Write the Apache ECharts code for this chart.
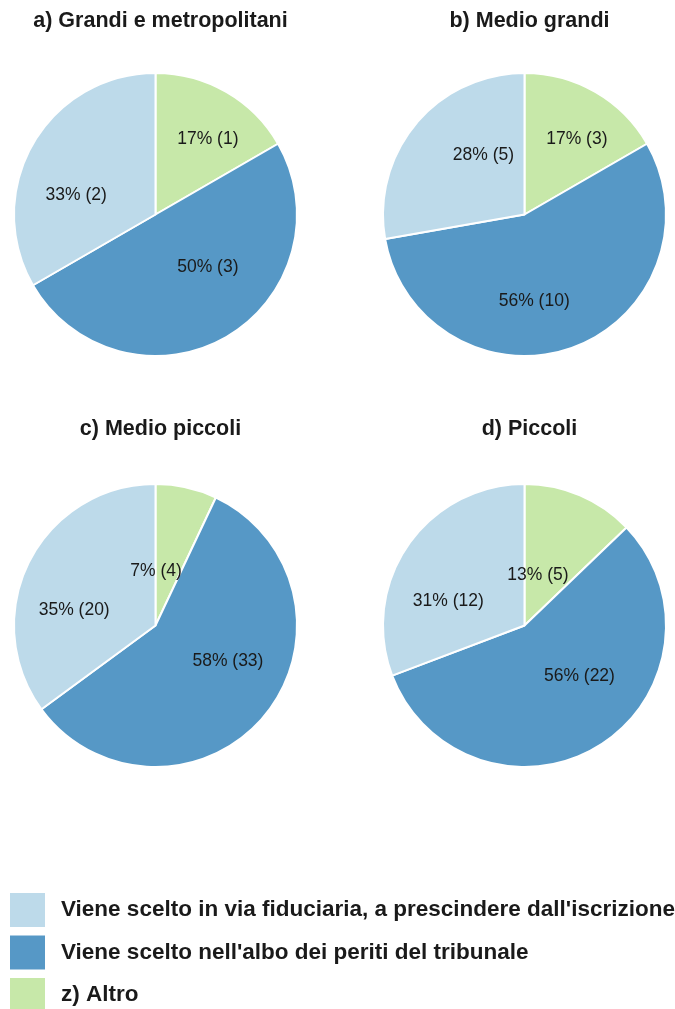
<!DOCTYPE html>
<html>
<head>
<meta charset="utf-8">
<script src="https://cdn.jsdelivr.net/npm/echarts@6/dist/echarts.min.js"></script>
<style>
  html, body { margin: 0; padding: 0; background: #ffffff; }
  #chart { width: 675px; height: 1009px; }
</style>
</head>
<body>
<div id="chart"></div>
<script>
// Category names (legend order)
const categories = [
  "Viene scelto in via fiduciaria, a prescindere dall'iscrizione",
  "Viene scelto nell'albo dei periti del tribunale",
  "z) Altro"
];
const categoryColors = ['#bddaea', '#5698c6', '#c7e8a9'];

// Panel titles
const panelTitles = [
  'a) Grandi e metropolitani',
  'b) Medio grandi',
  'c) Medio piccoli',
  'd) Piccoli'
];

// Counts per panel, in category order: fiduciaria, albo, altro
const grandiMetropolitani = [2, 3, 1];
const medioGrandi = [5, 10, 3];
const medioPiccoli = [20, 33, 4];
const piccoli = [12, 22, 5];

const panels = [grandiMetropolitani, medioGrandi, medioPiccoli, piccoli];

// Label placement: +1 shifts a label up-right, -1 down-left (category order)
const labelShift = [
  [-1, 1, 1],
  [1, -1, 1],
  [-1, 1, -1],
  [-1, 1, -1]
];

// Layout of the 2x2 grid of pies
const centersX = [155.5, 524.5];
const centersY = [214.5, 625.5];
const titleTops = [5, 413.5];
const pieRadius = 141.5;

const FONT = '"Liberation Sans", Arial, sans-serif';

const titles = [];
const series = [];
// Slices run clockwise from 12 o'clock: altro, albo, fiduciaria
const sliceOrder = [2, 1, 0];

panels.forEach((values, p) => {
  const col = p % 2, row = Math.floor(p / 2);
  const total = values.reduce((a, b) => a + b, 0);
  titles.push({
    text: panelTitles[p],
    left: centersX[col],
    top: titleTops[row],
    textAlign: 'center',
    textStyle: { fontFamily: FONT, fontWeight: 'bold', fontSize: 21.5, color: '#1a1a1a' }
  });
  series.push({
    type: 'pie',
    center: [centersX[col], centersY[row]],
    radius: pieRadius,
    startAngle: 90,
    clockwise: true,
    animation: false,
    silent: true,
    itemStyle: { borderColor: '#ffffff', borderWidth: 2 },
    label: {
      show: true,
      position: 'inside',
      fontFamily: FONT,
      fontSize: 17.5,
      color: '#1a1a1a',
      formatter: (prm) => Math.round(prm.value / total * 100) + '% (' + prm.value + ')'
    },
    labelLine: { show: false },
    labelLayout: (prm) => {
      const s = labelShift[p][sliceOrder[prm.dataIndex]];
      return { dx: s * 15.5, dy: -s * 14.5 + 3 };
    },
    data: sliceOrder.map(i => ({
      name: categories[i],
      value: values[i],
      itemStyle: { color: categoryColors[i] }
    }))
  });
});

// One legend block per category, stacked down the bottom-left
const legendTops = [891, 933.5, 976];
const legends = categories.map((name, i) => ({
  orient: 'vertical',
  left: 8,
  top: legendTops[i],
  padding: 0,
  itemWidth: 37,
  itemHeight: 36,
  icon: 'rect',
  selectedMode: false,
  data: [name],
  textStyle: { fontFamily: FONT, fontWeight: 'bold', fontSize: 22.5, color: '#1a1a1a', padding: [0, 0, 0, 10] }
}));

const chart = echarts.init(document.getElementById('chart'), null, { renderer: 'canvas' });
chart.setOption({
  backgroundColor: '#ffffff',
  animation: false,
  title: titles,
  legend: legends,
  series: series
});
</script>
</body>
</html>
